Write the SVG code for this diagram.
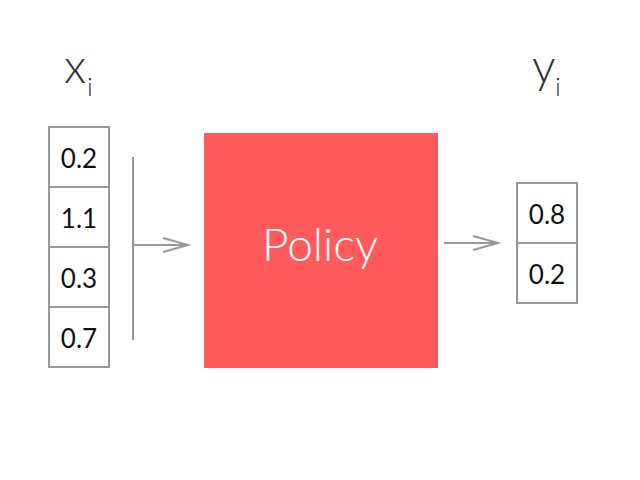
<svg xmlns="http://www.w3.org/2000/svg" width="640" height="480" viewBox="0 0 640 480">
<defs>
<style>
.cell{fill:#fff;stroke:#999;stroke-width:2}
.num{font-family:Lato,"Liberation Sans",sans-serif;font-size:26px;fill:#111;text-anchor:middle}
.lbl{font-family:Lato,"Liberation Sans",sans-serif;font-weight:300;fill:#333}
.conn{fill:none;stroke:#999;stroke-width:2}
</style>
<marker id="chev" markerUnits="userSpaceOnUse" markerWidth="30" markerHeight="20" refX="26" refY="8" orient="auto">
<path d="M1,1 L26,8 L1,15" fill="none" stroke="#999" stroke-width="2"/>
</marker>
</defs>
<rect width="640" height="480" fill="#fff"/>
<g id="input-label">
<text class="lbl" x="64" y="83" font-size="47">x</text>
<text class="lbl" x="87" y="96" font-size="26">i</text>
</g>
<g id="input">
<rect class="cell" x="49" y="127" width="60" height="60"/>
<rect class="cell" x="49" y="187" width="60" height="60"/>
<rect class="cell" x="49" y="247" width="60" height="60"/>
<rect class="cell" x="49" y="307" width="60" height="60"/>
<text class="num" x="79" y="168">0.2</text>
<text class="num" x="79" y="228">1.1</text>
<text class="num" x="79" y="288">0.3</text>
<text class="num" x="79" y="348">0.7</text>
</g>
<g id="policy">
<rect x="204" y="133" width="234" height="235" fill="#ff5a5c"/>
<text x="320" y="261" font-family="Lato,'Liberation Sans',sans-serif" font-weight="300" font-size="46" fill="#fff" text-anchor="middle">Policy</text>
</g>
<g id="output-label">
<text class="lbl" x="532" y="83" font-size="47">y</text>
<text class="lbl" x="555" y="96" font-size="26">i</text>
</g>
<g id="output">
<rect class="cell" x="517" y="183" width="60" height="60"/>
<rect class="cell" x="517" y="243" width="60" height="60"/>
<text class="num" x="547" y="224">0.8</text>
<text class="num" x="547" y="284">0.2</text>
</g>
<g id="connectors">
<line class="conn" x1="133" y1="157" x2="133" y2="340"/>
<line class="conn" x1="133" y1="245" x2="188" y2="245" marker-end="url(#chev)"/>
<line class="conn" x1="444" y1="243" x2="498" y2="243" marker-end="url(#chev)"/>
</g>
</svg>
